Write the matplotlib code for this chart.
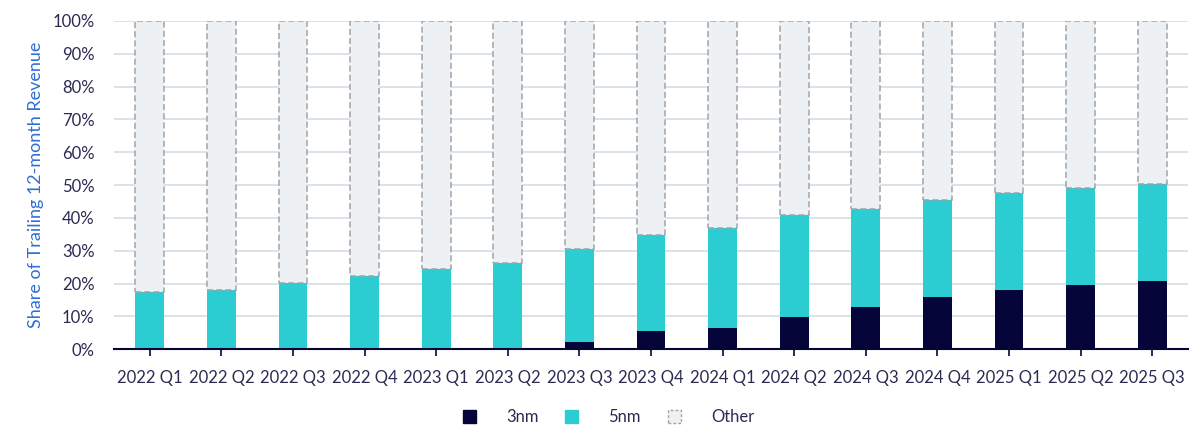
import matplotlib
matplotlib.use("Agg")
import matplotlib.pyplot as plt
from matplotlib.patches import Patch
import numpy as np

categories = ["2022 Q1", "2022 Q2", "2022 Q3", "2022 Q4",
              "2023 Q1", "2023 Q2", "2023 Q3", "2023 Q4",
              "2024 Q1", "2024 Q2", "2024 Q3", "2024 Q4",
              "2025 Q1", "2025 Q2", "2025 Q3"]
share_3nm = [0, 0, 0, 0, 0, 0, 2.2, 5.7, 6.6, 9.9, 12.8, 15.8, 18.0, 19.5, 20.9]
share_3nm_5nm_total = [17.4, 18.0, 20.2, 22.4, 24.5, 26.3, 30.5, 34.7, 36.8, 41.0, 42.7, 45.6, 47.7, 49.2, 50.2]
yticks = [0, 10, 20, 30, 40, 50, 60, 70, 80, 90, 100]

plt.rcParams['font.family'] = ['Lato', 'DejaVu Sans']

C3 = "#05053a"
C5 = "#2ccdd2"
COTH = "#eef1f4"
EDGE = "#a0a4a8"
TXT = "#2b2b52"
GRID = "#d6dee4"

s3 = np.array(share_3nm)
tot = np.array(share_3nm_5nm_total)
s5 = tot - s3
oth = 100 - tot

fig = plt.figure(figsize=(12, 4.45), dpi=100)
ax = fig.add_axes([0.095, 0.215, 0.895, 0.738])
x = np.arange(len(categories))
w = 0.4

ax.bar(x, s3, w, color=C3, zorder=3)
ax.bar(x, s5, w, bottom=s3, color=C5, zorder=3)
ax.bar(x, oth, w, bottom=tot, color=COTH, edgecolor=EDGE, linestyle=(0, (4, 2)),
       linewidth=1.1, zorder=3)

ax.set_xlim(-0.5, len(categories) - 0.5)
ax.set_ylim(0, 100)
ax.set_yticks(yticks)
ax.set_yticklabels([f"{v}%" for v in yticks])
ax.set_xticks(x)
ax.set_xticklabels(categories)
ax.yaxis.grid(True, color=GRID, linewidth=1.2, zorder=0)
ax.set_axisbelow(True)
for sp in ["top", "right", "left"]:
    ax.spines[sp].set_visible(False)
ax.spines["bottom"].set_color(C3)
ax.spines["bottom"].set_linewidth(1.5)
ax.spines["bottom"].set_zorder(4)
ax.tick_params(axis="y", length=0, pad=14, labelsize=12, labelcolor=TXT)
ax.tick_params(axis="x", length=5, width=1.2, color=C3, pad=10, labelsize=12, labelcolor=TXT)
ax.set_ylabel("Share of Trailing 12-month Revenue", color="#2f6fd6", fontsize=13, labelpad=6)

handles = [Patch(facecolor=C3, edgecolor=C3),
           Patch(facecolor=C5, edgecolor=C5),
           Patch(facecolor=COTH, edgecolor=EDGE, linestyle=(0, (2, 1.5)))]
fig.legend(handles, ["3nm", "5nm", "Other"], loc="center", bbox_to_anchor=(0.507, 0.063),
           ncol=3, frameon=False, handlelength=0.8, handleheight=0.8,
           handletextpad=1.8, columnspacing=1.6, fontsize=12, labelcolor=TXT)

fig.savefig("out.png", dpi=100)
